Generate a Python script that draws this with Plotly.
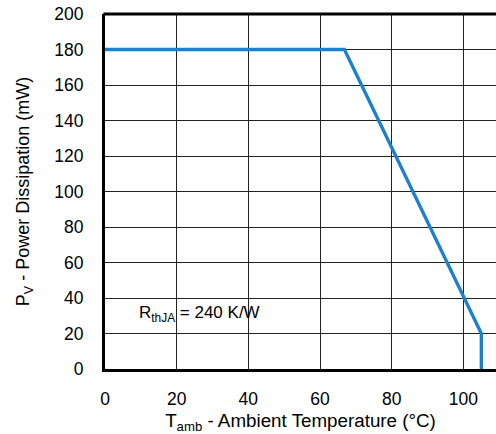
import plotly.graph_objects as go

temp_c = [0, 66.8, 105, 105]
power_mw = [180, 180, 20, 0]
x_ticks = [0, 20, 40, 60, 80, 100]
y_ticks = [0, 20, 40, 60, 80, 100, 120, 140, 160, 180, 200]

fig = go.Figure()
fig.add_trace(go.Scatter(x=temp_c, y=power_mw, mode="lines",
                         line=dict(color="#1b80cd", width=3.3), showlegend=False))

fig.add_annotation(x=9.0, y=31, xref="x", yref="y", showarrow=False, xanchor="left",
                   text="R<sub>thJA</sub> = 240 K/W",
                   font=dict(family="Liberation Sans, Arial", size=17, color="black"))

# top frame line
fig.add_shape(type="line", xref="paper", yref="paper", x0=-0.004, x1=1, y0=1, y1=1,
              line=dict(color="black", width=3), layer="above")

font = dict(family="Liberation Sans, Arial", size=17.5, color="black")
xtfont = dict(family="Liberation Sans, Arial", size=18.8, color="black")
ytfont = dict(family="Liberation Sans, Arial", size=18, color="black")
fig.update_layout(
    width=496, height=434,
    margin=dict(l=105, r=0, t=14, b=65),
    paper_bgcolor="white", plot_bgcolor="white",
    font=font,
    xaxis=dict(range=[0, 109.1], tickvals=x_ticks, showgrid=True, gridcolor="#222", gridwidth=1,
               showline=True, linecolor="black", linewidth=3, mirror=False, zeroline=False,
               ticks="", ticklabelstandoff=12, tickfont=font, ticklabeloverflow="allow",
               title=dict(text="T<sub>amb</sub> - Ambient Temperature (°C)", font=xtfont, standoff=10)),
    yaxis=dict(range=[0, 200], tickvals=y_ticks, showgrid=True, gridcolor="#222", gridwidth=1,
               showline=True, linecolor="black", linewidth=3, mirror=False, zeroline=False,
               ticks="", ticklabelstandoff=15, tickfont=font, ticklabeloverflow="allow",
               title=dict(text="P<sub>V</sub> - Power Dissipation (mW)", font=ytfont, standoff=20)),
)
fig.write_html("out.html", config={"displayModeBar": False},
               post_script="document.body.style.margin='0px';")
